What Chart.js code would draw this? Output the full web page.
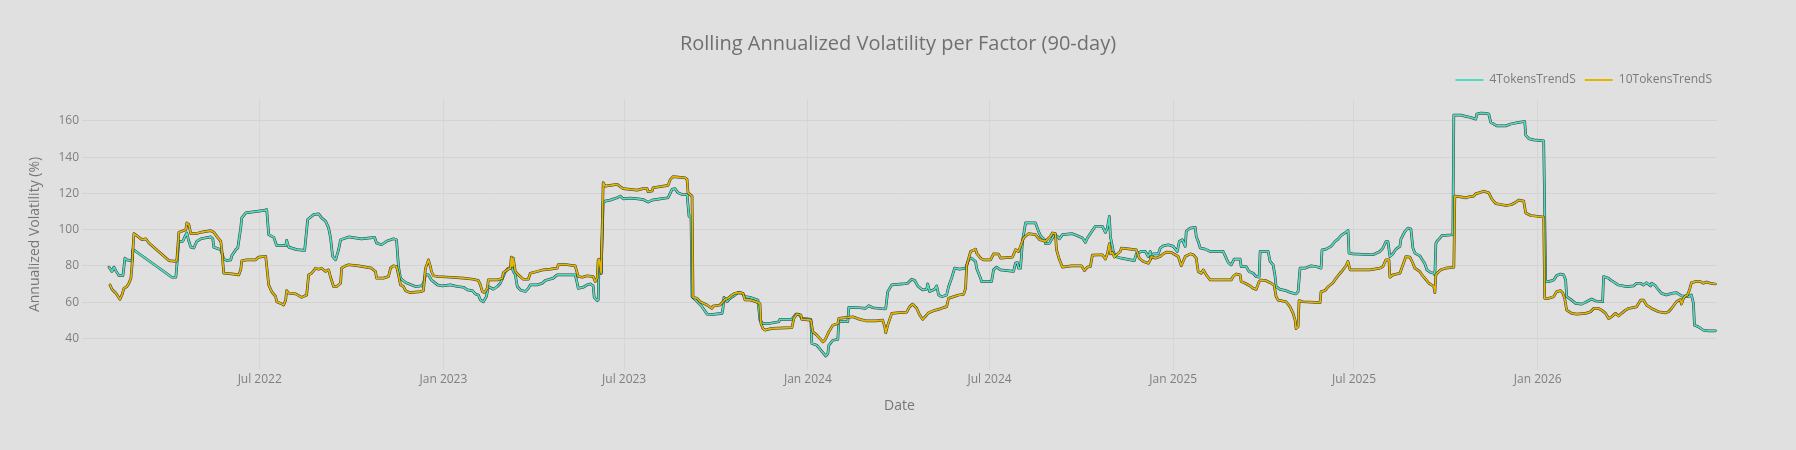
<!DOCTYPE html>
<html>
<head>
<meta charset="utf-8">
<script src="https://cdn.jsdelivr.net/npm/chart.js@4.4.1/dist/chart.umd.min.js"></script>
<style>
  html, body { margin: 0; padding: 0; background: #e0e0e0; }
  #wrap { width: 1796px; height: 450px; position: relative; }
</style>
</head>
<body>
<div id="wrap"><canvas id="c" width="1796" height="450"></canvas></div>
<script>
// ---------------- data ----------------
const chartTitle = 'Rolling Annualized Volatility per Factor (90-day)';
const seriesNames = ['4TokensTrendS', '10TokensTrendS'];
const xAxisTitle = 'Date';
const yAxisTitle = 'Annualized Volatility (%)';

const xRange = ['2022-01-04', '2026-06-29T14:00:00Z'];
const xTickDates = ['2022-07-01','2023-01-01','2023-07-01','2024-01-01','2024-07-01','2025-01-01','2025-07-01','2026-01-01'];
const xTickLabels = ['Jul 2022','Jan 2023','Jul 2023','Jan 2024','Jul 2024','Jan 2025','Jul 2025','Jan 2026'];
const yRange = [22.7, 172];
const yTickValues = [40, 60, 80, 100, 120, 140, 160];

const dates4 = [
'2022-01-31','2022-02-03','2022-02-05','2022-02-07','2022-02-10','2022-02-14','2022-02-16','2022-02-18','2022-02-22','2022-02-23',
'2022-02-24','2022-02-26','2022-04-04','2022-04-08','2022-04-11','2022-04-15','2022-04-18','2022-04-19','2022-04-21','2022-04-23',
'2022-04-26','2022-04-29','2022-05-03','2022-05-13','2022-05-15','2022-05-16','2022-05-23','2022-05-26','2022-05-29','2022-06-02',
'2022-06-03','2022-06-07','2022-06-09','2022-06-12','2022-06-13','2022-06-17','2022-06-30','2022-07-05','2022-07-08','2022-07-10',
'2022-07-15','2022-07-18','2022-07-27','2022-07-28','2022-07-30','2022-08-07','2022-08-15','2022-08-18','2022-08-24','2022-08-29',
'2022-09-01','2022-09-05','2022-09-08','2022-09-10','2022-09-12','2022-09-15','2022-09-18','2022-09-20','2022-09-28','2022-10-11',
'2022-10-24','2022-10-26','2022-10-31','2022-11-05','2022-11-12','2022-11-15','2022-11-17','2022-11-19','2022-11-24','2022-12-04',
'2022-12-10','2022-12-12','2022-12-14','2022-12-17','2022-12-20','2022-12-22','2022-12-26','2022-12-31','2023-01-08','2023-01-15',
'2023-01-21','2023-01-25','2023-01-30','2023-02-02','2023-02-05','2023-02-07','2023-02-10','2023-02-13','2023-02-15','2023-02-20',
'2023-02-24','2023-02-27','2023-03-02','2023-03-04','2023-03-07','2023-03-11','2023-03-12','2023-03-14','2023-03-16','2023-03-19',
'2023-03-24','2023-03-27','2023-03-29','2023-04-05','2023-04-10','2023-04-13','2023-04-21','2023-04-25','2023-05-13','2023-05-15',
'2023-05-16','2023-05-21','2023-05-25','2023-05-28','2023-05-31','2023-06-01','2023-06-04','2023-06-05','2023-06-06','2023-06-08',
'2023-06-10','2023-06-12','2023-06-17','2023-06-24','2023-06-27','2023-06-30','2023-07-07','2023-07-15','2023-07-20','2023-07-25',
'2023-07-29','2023-08-06','2023-08-14','2023-08-18','2023-08-21','2023-08-24','2023-08-28','2023-09-02','2023-09-04','2023-09-06',
'2023-09-07','2023-09-10','2023-09-13','2023-09-17','2023-09-22','2023-09-28','2023-10-07','2023-10-08','2023-10-09','2023-10-12',
'2023-10-15','2023-10-20','2023-10-23','2023-10-27','2023-10-30','2023-11-04','2023-11-12','2023-11-14','2023-11-17','2023-11-23',
'2023-12-03','2023-12-04','2023-12-16','2023-12-20','2023-12-23','2023-12-26','2024-01-04','2024-01-05','2024-01-10','2024-01-14',
'2024-01-19','2024-01-21','2024-01-22','2024-01-26','2024-01-31','2024-02-01','2024-02-10','2024-02-11','2024-02-22','2024-02-28',
'2024-03-02','2024-03-06','2024-03-18','2024-03-19','2024-03-21','2024-03-25','2024-04-05','2024-04-10','2024-04-14','2024-04-17',
'2024-04-20','2024-04-25','2024-04-29','2024-04-30','2024-05-02','2024-05-07','2024-05-09','2024-05-11','2024-05-14','2024-05-19',
'2024-05-21','2024-05-24','2024-05-27','2024-06-01','2024-06-07','2024-06-10','2024-06-13','2024-06-17','2024-06-18','2024-06-22',
'2024-06-23','2024-07-03','2024-07-05','2024-07-08','2024-07-12','2024-07-25','2024-07-27','2024-07-29','2024-07-30','2024-08-01',
'2024-08-03','2024-08-06','2024-08-16','2024-08-19','2024-08-21','2024-08-25','2024-08-26','2024-08-30','2024-09-04','2024-09-07',
'2024-09-09','2024-09-12','2024-09-22','2024-09-27','2024-10-02','2024-10-05','2024-10-07','2024-10-12','2024-10-15','2024-10-22',
'2024-10-25','2024-10-27','2024-10-29','2024-10-30','2024-11-02','2024-11-04','2024-11-10','2024-11-19','2024-11-23','2024-11-25',
'2024-11-30','2024-12-04','2024-12-05','2024-12-07','2024-12-09','2024-12-10','2024-12-12','2024-12-17','2024-12-19','2024-12-22',
'2024-12-27','2025-01-01','2025-01-05','2025-01-07','2025-01-10','2025-01-13','2025-01-14','2025-01-18','2025-01-23','2025-01-24',
'2025-01-26','2025-01-28','2025-02-02','2025-02-07','2025-02-20','2025-02-22','2025-02-25','2025-02-28','2025-03-03','2025-03-09',
'2025-03-10','2025-03-15','2025-03-18','2025-03-22','2025-03-25','2025-03-28','2025-03-29','2025-04-06','2025-04-08','2025-04-11',
'2025-04-13','2025-04-14','2025-04-18','2025-04-24','2025-04-29','2025-05-04','2025-05-06','2025-05-08','2025-05-13','2025-05-19',
'2025-05-24','2025-05-29','2025-05-30','2025-06-03','2025-06-08','2025-06-12','2025-06-15','2025-06-18','2025-06-22','2025-06-25',
'2025-06-26','2025-06-30','2025-07-20','2025-07-27','2025-07-30','2025-08-02','2025-08-04','2025-08-06','2025-08-09','2025-08-12',
'2025-08-16','2025-08-17','2025-08-21','2025-08-24','2025-08-27','2025-08-29','2025-08-31','2025-09-05','2025-09-07','2025-09-10',
'2025-09-12','2025-09-16','2025-09-19','2025-09-20','2025-09-21','2025-09-22','2025-09-25','2025-09-27','2025-10-08','2025-10-09',
'2025-10-16','2025-10-21','2025-10-26','2025-10-31','2025-11-01','2025-11-05','2025-11-10','2025-11-13','2025-11-15','2025-11-18',
'2025-11-21','2025-11-30','2025-12-05','2025-12-13','2025-12-19','2025-12-20','2025-12-23','2025-12-28','2026-01-07','2026-01-09',
'2026-01-12','2026-01-17','2026-01-20','2026-01-24','2026-01-27','2026-01-29','2026-01-30','2026-02-03','2026-02-08','2026-02-14',
'2026-02-19','2026-02-24','2026-02-28','2026-03-07','2026-03-08','2026-03-13','2026-03-16','2026-03-23','2026-03-31','2026-04-07',
'2026-04-10','2026-04-14','2026-04-17','2026-04-20','2026-04-24','2026-04-25','2026-04-29','2026-05-02','2026-05-05','2026-05-10',
'2026-05-15','2026-05-20','2026-05-25','2026-06-01','2026-06-04','2026-06-06','2026-06-07','2026-06-11','2026-06-16','2026-06-21',
'2026-06-28'
];
const vol4 = [
79.4,77.0,79.4,77.3,74.7,74.7,84.3,83.4,83.0,82.5,
89.0,88.4,73.8,73.8,93.6,93.6,97.3,98.2,93.6,90.4,
89.9,93.6,95.0,96.0,95.0,90.4,89.0,83.8,83.0,83.4,
85.6,89.0,89.9,101.0,106.5,109.3,110.2,110.6,111.1,97.3,
95.8,91.2,91.2,94.1,90.4,89.0,88.6,105.6,108.3,108.7,
106.5,104.6,101.0,95.4,85.3,83.4,89.0,94.5,96.0,94.9,
95.8,92.7,91.7,93.6,95.0,94.5,79.7,73.3,70.9,68.7,
69.0,70.5,75.1,75.1,72.3,71.4,69.6,69.0,69.6,68.7,
68.3,66.8,66.4,64.6,64.0,61.3,60.3,63.1,68.7,67.2,
68.7,70.5,74.2,77.0,78.8,78.8,77.0,75.1,68.7,66.8,
65.9,67.7,69.6,69.6,70.5,72.0,73.3,75.1,75.1,70.5,
67.7,68.3,69.6,70.1,69.0,62.7,60.9,61.3,83.4,76.0,
114.8,115.7,116.3,117.6,118.5,117.0,117.4,117.0,116.6,115.2,
116.3,117.0,117.6,122.2,122.6,120.3,119.4,119.4,107.4,106.5,
63.1,61.6,59.8,57.6,53.5,53.3,53.9,56.7,62.7,60.3,
62.2,64.0,65.3,65.0,63.1,62.7,61.3,50.2,48.3,48.3,
49.3,50.6,50.6,53.5,53.3,51.1,50.6,37.3,36.3,33.6,
30.4,31.7,36.3,39.1,39.5,49.3,49.3,57.2,57.0,56.7,
58.1,57.0,56.3,56.7,65.9,69.6,70.1,70.5,72.7,72.0,
69.0,66.8,67.2,70.1,65.9,67.2,69.0,64.0,63.1,64.0,
68.7,73.3,78.8,78.3,78.8,83.4,84.3,82.5,78.8,73.3,
71.4,71.4,77.9,79.4,77.9,77.0,81.6,81.9,78.8,78.8,
93.6,103.7,103.7,99.1,96.7,94.5,92.3,92.6,97.3,96.3,
95.0,97.3,97.8,96.7,95.4,93.0,95.4,99.5,101.9,101.9,
98.5,100.9,107.4,96.3,88.0,85.2,84.3,83.4,83.0,86.7,
88.0,88.0,87.1,85.2,88.0,84.3,86.7,86.7,89.9,91.1,
91.7,90.8,88.0,93.5,94.5,90.8,99.1,100.9,101.3,96.3,
93.5,89.9,89.3,88.0,88.0,85.6,81.9,80.6,83.8,83.8,
79.7,79.7,76.9,76.0,74.2,73.8,88.0,88.0,82.5,80.6,
74.2,68.6,67.1,66.4,65.3,64.6,65.9,78.8,78.8,80.1,
79.7,78.8,88.9,89.3,90.8,93.5,94.8,96.7,98.2,99.6,
87.1,86.7,86.2,88.0,89.9,93.5,93.5,85.2,86.7,89.3,
90.8,94.8,99.1,100.9,100.4,89.9,87.1,85.6,83.8,81.2,
77.9,76.4,76.0,75.1,92.3,93.5,95.4,96.7,97.2,163.1,
163.1,162.4,161.8,160.9,163.7,164.2,164.1,163.7,159.1,158.2,
157.2,157.2,158.2,159.1,159.6,152.1,150.2,149.5,148.9,71.4,
71.4,72.3,74.7,75.6,75.1,72.3,63.1,61.6,59.4,59.0,
60.3,61.8,60.7,60.3,74.2,73.2,71.9,69.5,68.6,69.0,
70.5,70.5,69.5,70.8,69.0,70.5,69.0,66.8,64.9,64.0,
64.9,65.3,63.5,63.1,64.0,59.4,47.4,46.5,44.6,44.3,
44.3
];

const dates10 = [
'2022-02-01','2022-02-03','2022-02-07','2022-02-11','2022-02-13','2022-02-15','2022-02-18','2022-02-20','2022-02-22','2022-02-23',
'2022-02-25','2022-02-28','2022-03-05','2022-03-09','2022-03-12','2022-04-01','2022-04-08','2022-04-09','2022-04-11','2022-04-14',
'2022-04-18','2022-04-19','2022-04-21','2022-04-23','2022-04-28','2022-05-04','2022-05-13','2022-05-16','2022-05-19','2022-05-23',
'2022-05-24','2022-05-26','2022-06-03','2022-06-10','2022-06-12','2022-06-13','2022-06-18','2022-06-27','2022-06-30','2022-07-07',
'2022-07-10','2022-07-13','2022-07-17','2022-07-18','2022-07-22','2022-07-25','2022-07-27','2022-07-28','2022-07-30','2022-08-06',
'2022-08-12','2022-08-17','2022-08-19','2022-08-22','2022-08-26','2022-08-29','2022-09-01','2022-09-05','2022-09-08','2022-09-10',
'2022-09-13','2022-09-16','2022-09-20','2022-09-21','2022-09-25','2022-09-28','2022-10-08','2022-10-21','2022-10-25','2022-10-26',
'2022-11-02','2022-11-07','2022-11-09','2022-11-12','2022-11-15','2022-11-17','2022-11-19','2022-11-22','2022-11-24','2022-11-29',
'2022-12-09','2022-12-12','2022-12-14','2022-12-15','2022-12-17','2022-12-19','2022-12-20','2022-12-22','2022-12-26','2023-01-08',
'2023-01-21','2023-01-31','2023-02-05','2023-02-07','2023-02-09','2023-02-11','2023-02-14','2023-02-15','2023-02-24','2023-03-01',
'2023-03-02','2023-03-06','2023-03-09','2023-03-10','2023-03-11','2023-03-12','2023-03-14','2023-03-17','2023-03-22','2023-03-27',
'2023-03-29','2023-04-05','2023-04-11','2023-04-18','2023-04-25','2023-04-26','2023-05-05','2023-05-13','2023-05-16','2023-05-20',
'2023-05-25','2023-05-31','2023-06-02','2023-06-04','2023-06-05','2023-06-06','2023-06-08','2023-06-10','2023-06-12','2023-06-17',
'2023-06-24','2023-06-27','2023-06-30','2023-07-14','2023-07-20','2023-07-24','2023-07-25','2023-07-29','2023-07-30','2023-08-06',
'2023-08-14','2023-08-16','2023-08-19','2023-08-24','2023-08-31','2023-09-02','2023-09-03','2023-09-07','2023-09-08','2023-09-12',
'2023-09-15','2023-09-22','2023-09-27','2023-09-28','2023-10-05','2023-10-08','2023-10-10','2023-10-13','2023-10-17','2023-10-20',
'2023-10-25','2023-10-28','2023-10-30','2023-11-04','2023-11-09','2023-11-14','2023-11-15','2023-11-17','2023-11-19','2023-11-26',
'2023-12-16','2023-12-18','2023-12-21','2023-12-25','2023-12-26','2024-01-04','2024-01-06','2024-01-10','2024-01-16','2024-01-18',
'2024-01-22','2024-01-26','2024-01-31','2024-02-01','2024-02-10','2024-02-15','2024-02-22','2024-02-28','2024-03-09','2024-03-16',
'2024-03-18','2024-03-19','2024-03-21','2024-03-25','2024-04-02','2024-04-09','2024-04-12','2024-04-15','2024-04-19','2024-04-22',
'2024-04-25','2024-04-29','2024-05-01','2024-05-06','2024-05-11','2024-05-14','2024-05-19','2024-05-21','2024-05-24','2024-05-31',
'2024-06-05','2024-06-07','2024-06-08','2024-06-12','2024-06-17','2024-06-18','2024-06-22','2024-06-25','2024-07-02','2024-07-05',
'2024-07-10','2024-07-12','2024-07-24','2024-07-27','2024-07-30','2024-08-01','2024-08-04','2024-08-09','2024-08-16','2024-08-20',
'2024-08-26','2024-08-31','2024-09-02','2024-09-05','2024-09-06','2024-09-09','2024-09-12','2024-09-21','2024-10-01','2024-10-04',
'2024-10-07','2024-10-10','2024-10-12','2024-10-22','2024-10-25','2024-10-27','2024-10-29','2024-10-30','2024-11-01','2024-11-03',
'2024-11-05','2024-11-09','2024-11-10','2024-11-19','2024-11-25','2024-11-28','2024-12-02','2024-12-07','2024-12-09','2024-12-10',
'2024-12-14','2024-12-19','2024-12-22','2024-12-25','2024-12-30','2025-01-03','2025-01-06','2025-01-09','2025-01-13','2025-01-18',
'2025-01-21','2025-01-24','2025-01-26','2025-01-29','2025-01-31','2025-02-03','2025-02-07','2025-02-28','2025-03-02','2025-03-05',
'2025-03-09','2025-03-10','2025-03-14','2025-03-19','2025-03-22','2025-03-25','2025-03-28','2025-03-30','2025-04-04','2025-04-08',
'2025-04-12','2025-04-14','2025-04-16','2025-04-24','2025-04-28','2025-05-01','2025-05-03','2025-05-04','2025-05-06','2025-05-07',
'2025-05-11','2025-05-28','2025-05-29','2025-06-02','2025-06-05','2025-06-10','2025-06-13','2025-06-17','2025-06-20','2025-06-23',
'2025-06-25','2025-06-27','2025-07-17','2025-07-27','2025-07-30','2025-08-02','2025-08-05','2025-08-06','2025-08-09','2025-08-16',
'2025-08-19','2025-08-22','2025-08-26','2025-08-29','2025-08-31','2025-09-05','2025-09-07','2025-09-10','2025-09-14','2025-09-17',
'2025-09-19','2025-09-20','2025-09-21','2025-09-23','2025-09-26','2025-10-01','2025-10-09','2025-10-10','2025-10-16','2025-10-21',
'2025-10-24','2025-10-29','2025-10-31','2025-11-03','2025-11-08','2025-11-13','2025-11-16','2025-11-20','2025-11-25','2025-12-01',
'2025-12-06','2025-12-10','2025-12-13','2025-12-18','2025-12-20','2025-12-25','2026-01-07','2026-01-08','2026-01-12','2026-01-17',
'2026-01-20','2026-01-24','2026-01-26','2026-01-28','2026-01-30','2026-02-04','2026-02-09','2026-02-18','2026-02-23','2026-02-26',
'2026-03-03','2026-03-06','2026-03-10','2026-03-13','2026-03-16','2026-03-20','2026-03-23','2026-03-26','2026-03-30','2026-04-02',
'2026-04-10','2026-04-14','2026-04-17','2026-04-20','2026-04-25','2026-05-02','2026-05-09','2026-05-12','2026-05-15','2026-05-20',
'2026-05-24','2026-05-25','2026-05-27','2026-05-29','2026-05-31','2026-06-02','2026-06-04','2026-06-08','2026-06-13','2026-06-16',
'2026-06-19','2026-06-23','2026-06-28'
];
const vol10 = [
69.6,67.2,65.0,61.6,64.0,67.7,68.7,70.5,73.3,79.7,
97.8,96.7,94.5,94.9,92.7,83.0,82.5,83.4,98.6,99.1,
100.0,103.7,102.8,97.8,97.8,98.7,99.5,98.6,96.3,93.6,
89.0,76.0,75.7,75.1,77.9,82.9,83.4,83.4,84.9,85.3,
69.6,65.9,63.1,60.3,59.4,58.5,61.3,66.4,65.0,64.6,
62.7,64.0,75.1,76.0,78.8,78.2,78.8,77.0,77.9,73.8,
68.7,68.7,70.5,78.8,80.1,80.7,80.1,78.8,77.0,73.3,
73.3,74.2,78.8,80.1,79.7,75.1,69.6,68.7,66.4,65.3,
65.9,66.4,78.8,80.1,83.4,79.7,77.0,74.6,74.2,73.8,
73.3,72.7,72.0,69.6,65.9,65.3,67.7,72.3,72.3,73.3,
76.4,77.9,78.8,84.9,79.7,84.3,77.0,75.1,72.7,72.7,
76.0,77.0,77.9,78.3,78.8,80.7,80.7,80.1,74.2,73.8,
74.6,74.2,71.4,73.3,83.4,83.8,76.0,125.9,124.0,124.4,
125.0,123.7,122.6,121.8,122.6,122.6,120.9,121.3,123.1,123.7,
124.4,127.4,129.2,129.0,128.6,127.7,120.3,118.5,62.7,62.2,
60.3,58.5,56.7,57.9,58.5,60.3,61.6,62.2,64.0,65.0,
65.3,65.0,61.3,61.3,60.5,59.4,48.3,45.6,44.7,45.6,
46.0,51.1,53.5,53.0,50.6,50.2,43.7,41.9,38.2,39.1,
43.7,47.4,48.3,51.1,51.7,52.0,50.6,49.8,49.8,50.2,
46.5,43.2,47.4,53.9,54.3,54.6,57.6,59.0,56.7,53.0,
50.6,53.0,54.3,55.4,56.1,56.7,57.6,62.2,62.7,64.0,
64.4,67.7,80.1,88.0,89.3,87.1,84.3,83.4,83.4,86.7,
86.6,84.3,84.9,89.0,88.0,90.8,95.4,97.8,97.3,94.5,
93.6,96.3,98.2,97.8,89.0,83.4,79.4,80.1,80.1,77.5,
79.4,79.7,86.0,86.2,83.8,86.7,92.3,86.7,87.5,84.9,
86.2,88.0,89.9,89.3,88.9,84.3,82.5,81.5,83.4,85.2,
84.3,85.2,86.7,87.6,87.5,86.2,85.2,80.1,85.2,86.7,
86.2,84.3,76.9,76.0,77.9,75.1,72.3,72.3,74.2,75.6,
75.1,71.4,70.5,69.0,67.7,67.1,71.4,72.3,71.9,70.8,
69.5,63.1,61.2,60.3,57.5,53.9,50.2,45.5,46.5,60.9,
60.3,59.8,65.9,66.4,68.6,70.8,73.2,76.0,77.9,80.1,
82.5,77.9,77.9,78.8,79.7,83.4,83.4,73.8,75.1,76.0,
80.6,85.2,84.9,81.5,78.8,76.9,75.1,73.2,70.5,69.5,
68.6,65.3,75.1,76.4,77.9,78.8,79.3,118.5,118.1,117.5,
118.1,118.5,119.9,120.3,121.2,120.3,117.0,114.4,113.9,113.3,
113.9,115.1,116.3,115.7,109.2,107.8,107.0,62.2,62.2,63.1,
65.9,66.4,65.3,62.2,55.7,53.9,53.5,53.9,54.8,56.6,
56.6,55.7,53.9,51.1,52.0,53.9,52.4,53.9,55.7,56.6,
57.5,61.2,61.2,58.5,56.6,54.8,54.2,54.8,56.6,60.3,
61.6,59.0,62.2,63.5,64.0,66.8,70.8,71.4,71.4,70.5,
71.2,70.5,70.1
];

// ---------------- styling ----------------
const lineColors = ['#4fdcc0', '#e3b600'];
const outlineColor = 'rgba(25,28,22,0.85)';
const FONT = "'Open Sans', 'Noto Sans', sans-serif";
Chart.defaults.font.family = FONT;

const toPoints = (ds, vs) => ds.map((d, i) => ({ x: Date.parse(d), y: vs[i] }));
const pts4 = toPoints(dates4, vol4);
const pts10 = toPoints(dates10, vol10);

const lineBase = { pointRadius: 0, pointHoverRadius: 0, tension: 0, fill: false, borderJoinStyle: 'round', borderCapStyle: 'round' };

const shiftBoxes = {
  id: 'shiftBoxes',
  afterLayout(chart) {
    const t = chart.titleBlock;
    if (t) { t.left = 0; t.right = chart.width; t.width = chart.width; }
    const lg = chart.legend;
    if (lg) { lg.top -= 3; lg.bottom -= 3; lg.left += 4; lg.right += 4; }
  }
};

new Chart(document.getElementById('c'), {
  type: 'line',
  data: {
    datasets: [
      Object.assign({ label: seriesNames[0], data: pts4, borderColor: lineColors[0], borderWidth: 1.7,
        pointBorderColor: lineColors[0], pointBackgroundColor: lineColors[0], pointBorderWidth: 2, order: 2 }, lineBase),
      Object.assign({ label: seriesNames[1], data: pts10, borderColor: lineColors[1], borderWidth: 1.7,
        pointBorderColor: lineColors[1], pointBackgroundColor: lineColors[1], pointBorderWidth: 2, order: 0 }, lineBase),
      Object.assign({ label: '', data: pts4, borderColor: outlineColor, borderWidth: 2.7, order: 3 }, lineBase),
      Object.assign({ label: '', data: pts10, borderColor: outlineColor, borderWidth: 2.7, order: 1 }, lineBase)
    ]
  },
  plugins: [shiftBoxes],
  options: {
    responsive: false,
    devicePixelRatio: 1,
    animation: false,
    events: [],
    parsing: false,
    layout: { padding: { left: 0, right: 79, top: 0, bottom: 0 } },
    plugins: {
      title: {
        display: true, text: chartTitle, color: '#707070',
        font: { size: 20, weight: 'normal', family: FONT },
        padding: { top: 32, bottom: 12 }
      },
      legend: {
        display: true, position: 'top', align: 'end',
        labels: {
          usePointStyle: true, pointStyle: 'line', pointStyleWidth: 28,
          padding: 9, color: '#7a7a7a', font: { size: 12, family: FONT },
          filter: (it) => it.text !== '',
          sort: (a, b) => a.datasetIndex - b.datasetIndex
        }
      },
      tooltip: { enabled: false }
    },
    scales: {
      x: {
        type: 'linear',
        min: Date.parse(xRange[0]), max: Date.parse(xRange[1]),
        afterBuildTicks: (s) => { s.ticks = xTickDates.map(d => ({ value: Date.parse(d) })); },
        afterFit: (s) => { s.height = 80; },
        ticks: {
          callback: (v, i) => xTickLabels[i],
          color: '#7f7f7f', font: { size: 12, family: FONT },
          padding: 2, maxRotation: 0, autoSkip: false
        },
        grid: { color: '#d6d6d6', lineWidth: 1, drawTicks: false },
        border: { display: false },
        title: { display: true, text: xAxisTitle, color: '#777777',
          font: { size: 14, family: FONT }, padding: { top: 0, bottom: 36 } }
      },
      y: {
        type: 'linear',
        min: yRange[0], max: yRange[1],
        afterBuildTicks: (s) => { s.ticks = yTickValues.map(v => ({ value: v })); },
        afterFit: (s) => { s.width = 82; },
        ticks: { color: '#7f7f7f', font: { size: 12, family: FONT }, padding: 3 },
        grid: { color: '#d3d3d3', lineWidth: 1, drawTicks: false },
        border: { display: false },
        title: { display: true, text: yAxisTitle, color: '#777777',
          font: { size: 14, family: FONT }, padding: { top: 26.6, bottom: 0 } }
      }
    }
  }
});
</script>
</body>
</html>
